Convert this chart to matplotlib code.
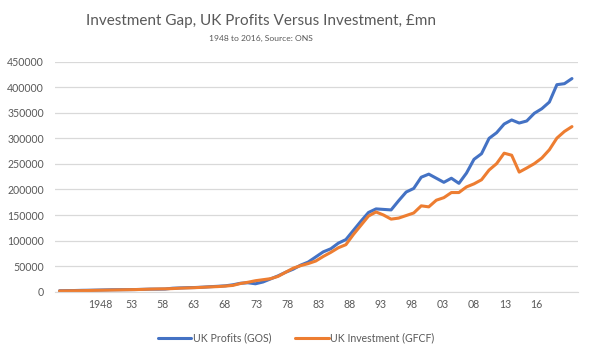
import numpy as np
import matplotlib
matplotlib.use('Agg')
import matplotlib.pyplot as plt

# values, 1948-2016, £mn
years = list(range(1948, 2017))
profits = [1900, 2100, 2300, 2700, 2900, 3200, 3500, 3800, 3900, 4000,
           4200, 4600, 5000, 5000, 5200, 6800, 7400, 7900, 8200, 8900,
           9800, 10600, 11500, 13500, 16500, 17500, 15500, 19000, 25000, 31000,
           38000, 44000, 52000, 58000, 68000, 78000, 84000, 95000, 102000, 120000,
           138000, 155000, 162000, 161000, 160000, 178000, 195000, 202000, 224000, 230000,
           222000, 214000, 222000, 212000, 232000, 259000, 270000, 300000, 311000, 328000,
           336000, 330000, 334000, 349000, 358000, 371000, 405000, 407000, 417000]
investment = [1500, 1700, 1900, 2100, 2400, 2700, 3000, 3300, 3600, 3900,
              4100, 4500, 5000, 5400, 5600, 6100, 6900, 7400, 7900, 8600,
              9400, 10000, 11000, 12300, 16000, 18500, 21500, 23500, 25500, 30000,
              38000, 46000, 51000, 55000, 60000, 69000, 77000, 86000, 92000, 112000,
              130000, 148000, 156000, 150000, 142000, 144000, 149000, 154000, 168000, 166000,
              179000, 184000, 194000, 194000, 205000, 211000, 219000, 238000, 250500, 271000,
              267000, 234000, 242000, 250500, 261500, 277700, 300500, 313500, 323000]
tick_labels = ['1948', '53', '58', '63', '68', '73', '78', '83', '88', '93',
               '98', '03', '08', '13', '16']

grey = '#595959'
plt.rcParams['font.family'] = ['Lato', 'DejaVu Sans']

fig = plt.figure(figsize=(5.89, 3.57), dpi=100)
ax = fig.add_axes([0.0934, 0.1829, 0.8879, 0.6443])

x = np.arange(len(years))
ax.plot(x, profits, color='#4472C4', lw=2.2, label='UK Profits (GOS)', solid_capstyle='round')
ax.plot(x, investment, color='#ED7D31', lw=2.2, label='UK Investment (GFCF)', solid_capstyle='round')

ax.set_xlim(-0.6, 68.8)
ax.set_ylim(0, 450000)
ax.set_yticks(np.arange(0, 450001, 50000))
ax.set_yticklabels([str(v) for v in range(0, 450001, 50000)])
ax.set_xticks(np.linspace(5.4, 63.3, len(tick_labels)))
ax.set_xticklabels(tick_labels)

ax.grid(axis='y', color='#D9D9D9', lw=0.9)
ax.set_axisbelow(True)
for s in ['top', 'right', 'left']:
    ax.spines[s].set_visible(False)
ax.spines['bottom'].set_color('#D9D9D9')
ax.tick_params(length=0, colors=grey, labelsize=7.6)
ax.tick_params(axis='y', pad=8)
ax.tick_params(axis='x', pad=5)

title = fig.text(261 / 589, 1 - 21 / 357, 'Investment Gap, UK Profits Versus Investment, £mn',
                 ha='center', va='center', fontsize=12, color=grey)
sub = fig.text(261 / 589, 1 - 38.5 / 357, '1948 to 2016, Source: ONS',
               ha='center', va='center', fontsize=6.8, color=grey)

# size the two header lines to the widths measured on the reference
r = fig.canvas.get_renderer()
for t, w in [(title, 348), (sub, 104)]:
    t.set_fontsize(t.get_fontsize() * w / t.get_window_extent(r).width)

leg = fig.legend(loc='center', bbox_to_anchor=(296 / 589, 1 - 338 / 357), ncol=2,
                 frameon=False, fontsize=7.6, handlelength=3.2, columnspacing=2.2,
                 handletextpad=0.15)
for t in leg.get_texts():
    t.set_color(grey)

fig.savefig('out.png', dpi=100)
